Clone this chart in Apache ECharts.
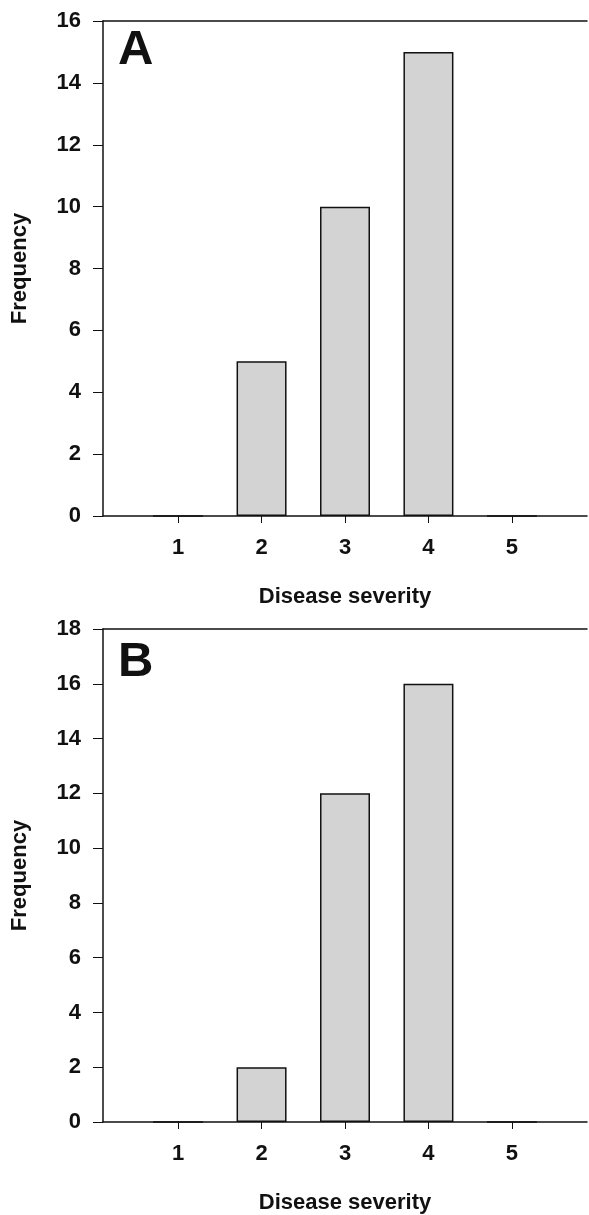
<!DOCTYPE html>
<html>
<head>
<meta charset="utf-8">
<script src="https://cdn.jsdelivr.net/npm/echarts@6/dist/echarts.min.js"></script>
<style>
  html, body { margin: 0; padding: 0; background: #fff; }
  #chart { width: 589px; height: 1215px; }
</style>
</head>
<body>
<div id="chart"></div>
<script>
// disease severity classes
const severity = [1, 2, 3, 4, 5]
// frequencies, panel A and panel B
const freqA = [0, 5, 10, 15, 0]
const freqB = [0, 2, 12, 16, 0]

const ink = '#111'
const fontFamily = '"Liberation Sans", Arial, sans-serif'
const barFill = '#d3d3d3'

const chart = echarts.init(document.getElementById('chart'))

function pairs(vals) {
  return severity.map((s, i) => [s, vals[i]])
}

function xAxisFor(gridIndex) {
  return {
    gridIndex: gridIndex,
    type: 'value',
    min: 0.1,
    max: 5.9,
    name: 'Disease severity',
    nameLocation: 'middle',
    nameGap: 70,
    nameTextStyle: { color: ink, fontSize: 22, fontWeight: 'bold', fontFamily },
    axisLine: { show: true, onZero: false, lineStyle: { color: ink, width: 1.5 } },
    axisTick: { show: true, length: 7, customValues: severity, lineStyle: { color: ink, width: 1 } },
    axisLabel: { customValues: severity, margin: 21, color: ink, fontSize: 22, fontWeight: 'bold', fontFamily },
    splitLine: { show: false }
  }
}

// top border line only
function topAxisFor(gridIndex) {
  return {
    gridIndex: gridIndex,
    type: 'value',
    position: 'top',
    min: 0.1,
    max: 5.9,
    axisLine: { show: true, onZero: false, lineStyle: { color: ink, width: 1.5 } },
    axisTick: { show: false },
    axisLabel: { show: false },
    splitLine: { show: false }
  }
}

function yAxisFor(gridIndex, max) {
  return {
    gridIndex: gridIndex,
    type: 'value',
    min: 0,
    max: max,
    interval: 2,
    name: 'Frequency',
    nameLocation: 'middle',
    nameGap: 72,
    nameTextStyle: { color: ink, fontSize: 22, fontWeight: 'bold', fontFamily },
    axisLine: { show: true, lineStyle: { color: ink, width: 1.5 } },
    axisTick: { show: true, length: 10, lineStyle: { color: ink, width: 1 } },
    axisLabel: { margin: 22, color: ink, fontSize: 22, fontWeight: 'bold', fontFamily },
    splitLine: { show: false }
  }
}

function barSeries(xIdx, yIdx, vals) {
  return {
    type: 'bar',
    xAxisIndex: xIdx,
    yAxisIndex: yIdx,
    barWidth: 50,
    data: pairs(vals),
    itemStyle: { color: barFill, borderColor: ink, borderWidth: 1.5 },
    silent: true,
    animation: false
  }
}

chart.setOption({
  animation: false,
  grid: [
    { left: 103, top: 21, right: 2, height: 495 },
    { left: 103, top: 629, right: 2, height: 493 }
  ],
  xAxis: [xAxisFor(0), topAxisFor(0), xAxisFor(1), topAxisFor(1)],
  yAxis: [yAxisFor(0, 16), yAxisFor(1, 18)],
  series: [
    barSeries(0, 0, freqA),
    barSeries(2, 1, freqB)
  ],
  graphic: [
    { type: 'text', left: 118, top: 26, style: { text: 'A', fill: ink, font: 'bold 49px ' + fontFamily } },
    { type: 'text', left: 118, top: 638, style: { text: 'B', fill: ink, font: 'bold 49px ' + fontFamily } }
  ]
})
</script>
</body>
</html>
